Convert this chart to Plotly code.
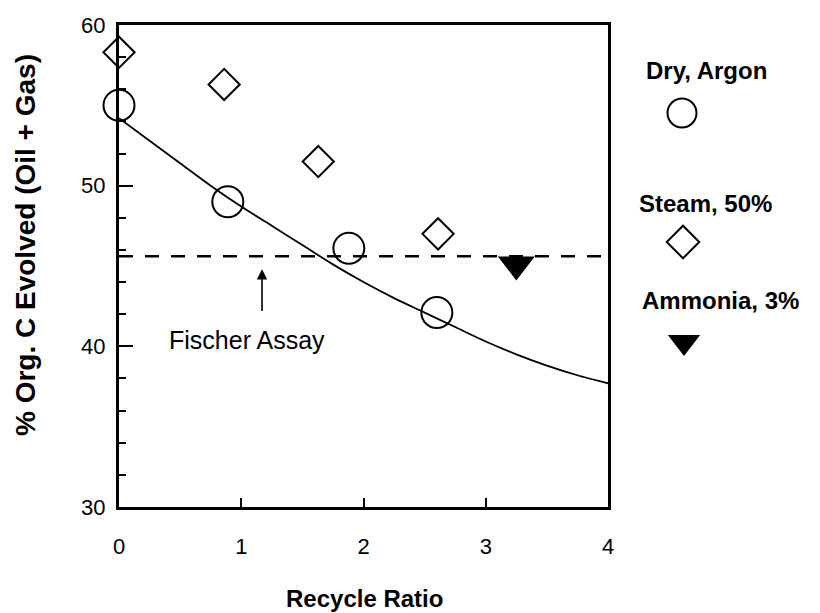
import plotly.graph_objects as go

# ---- Data ----
dry_x = [0.0, 0.89, 1.88, 2.60]
dry_y = [55.0, 49.0, 46.1, 42.1]

steam_x = [0.0, 0.86, 1.63, 2.61]
steam_y = [58.3, 56.3, 51.5, 47.0]

ammonia_x = [3.25]
ammonia_y = [45.1]

curve_x = [0.0, 0.25, 0.5, 0.75, 1.0, 1.25, 1.5, 1.75, 2.0, 2.25, 2.5, 2.75, 3.0, 3.25, 3.5, 3.75, 4.0]
curve_y = [54.2, 52.8, 51.4, 50.0, 48.7, 47.5, 46.3, 45.1, 44.0, 43.0, 42.1, 41.2, 40.3, 39.5, 38.8, 38.2, 37.7]

fischer_y = 45.6
x_range = [0, 4]
y_range = [30, 60]
x_ticks = [0, 1, 2, 3, 4]
y_ticks = [30, 40, 50, 60]

legend_labels = ["Dry, Argon", "Steam, 50%", "Ammonia, 3%"]

FONT = "Liberation Sans, Arial, Helvetica, sans-serif"
OFF = 8                      # page body margin
W, H = 820 - OFF, 613 - OFF  # figure size
# plot frame in page pixels
L, R, T, B = 119 - OFF, 608 - OFF, 25 - OFF, 507 - OFF

fig = go.Figure()

fig.add_trace(go.Scatter(x=curve_x, y=curve_y, mode="lines",
                         line=dict(color="black", width=1.8, shape="spline", smoothing=0.8),
                         showlegend=False))
fig.add_trace(go.Scatter(x=x_range, y=[fischer_y, fischer_y], mode="lines",
                         line=dict(color="black", width=2.5, dash="14px,12px"),
                         showlegend=False))
fig.add_trace(go.Scatter(x=dry_x, y=dry_y, mode="markers",
                         marker=dict(symbol="circle-open", size=31, color="black",
                                     line=dict(width=2, color="black")),
                         showlegend=False, cliponaxis=False))
fig.add_trace(go.Scatter(x=steam_x, y=steam_y, mode="markers",
                         marker=dict(symbol="diamond-open", size=24, color="black",
                                     line=dict(width=2, color="black")),
                         showlegend=False, cliponaxis=False))
fig.add_trace(go.Scatter(x=ammonia_x, y=ammonia_y, mode="markers",
                         marker=dict(symbol="triangle-down", size=32, color="black",
                                     line=dict(width=0)),
                         showlegend=False, cliponaxis=False))

# ---- custom legend drawn on a hidden pixel-space axis (page pixels) ----
leg_sym_x = [682, 683, 684]
leg_sym_y = [113, 242, 342]
leg_txt_x = [706, 705, 720]
leg_txt_y = [70, 203, 300]
symbols = [dict(symbol="circle-open", size=29, line=dict(width=2, color="black")),
           dict(symbol="diamond-open", size=25, line=dict(width=2, color="black")),
           dict(symbol="triangle-down", size=28, line=dict(width=0))]
for i in range(3):
    fig.add_trace(go.Scatter(x=[leg_sym_x[i]], y=[leg_sym_y[i]], xaxis="x2", yaxis="y2",
                             mode="markers", marker=dict(color="black", **symbols[i]),
                             showlegend=False, cliponaxis=False))

annotations = []
for i, lab in enumerate(legend_labels):
    annotations.append(dict(x=leg_txt_x[i], y=leg_txt_y[i], xref="x2", yref="y2",
                            xanchor="center", yanchor="middle",
                            text=f"<b>{lab}</b>", showarrow=False,
                            font=dict(family=FONT, size=24, color="black")))

annotations.append(dict(x=1.05, y=40.4, xref="x", yref="y", text="Fischer Assay",
                        xanchor="center", yanchor="middle",
                        showarrow=False, font=dict(family=FONT, size=25, color="black")))
annotations.append(dict(x=1.17, y=44.8, xref="x", yref="y", ax=1.17, ay=42.1,
                        axref="x", ayref="y", text="", showarrow=True,
                        arrowhead=2, arrowsize=1.3, arrowwidth=1.6, arrowcolor="black"))

# axis titles (page pixel centres)
annotations.append(dict(x=(364 - OFF) / W, y=1 - (598 - OFF) / H, xref="paper", yref="paper",
                        xanchor="center", yanchor="middle",
                        text="<b>Recycle Ratio</b>", showarrow=False,
                        font=dict(family=FONT, size=24, color="black")))
annotations.append(dict(x=(26 - OFF) / W, y=1 - (245 - OFF) / H, xref="paper", yref="paper",
                        xanchor="center", yanchor="middle",
                        text="<b>% Org. C Evolved (Oil + Gas)</b>", showarrow=False,
                        textangle=-90, font=dict(family=FONT, size=28, color="black")))

fig.update_layout(
    width=W, height=H,
    margin=dict(l=0, r=0, t=0, b=0),
    paper_bgcolor="white", plot_bgcolor="white",
    font=dict(family=FONT, size=22, color="black"),
    annotations=annotations,
    xaxis=dict(domain=[L / W, R / W], range=x_range, tickvals=x_ticks, showgrid=False,
               zeroline=False, automargin=False,
               showline=True, linewidth=3, linecolor="black", mirror=True,
               ticks="inside", ticklen=9, tickwidth=2, tickcolor="black",
               ticklabelstandoff=18, tickfont=dict(size=22)),
    yaxis=dict(domain=[1 - B / H, 1 - T / H], range=y_range, tickvals=y_ticks, showgrid=False,
               zeroline=False, automargin=False,
               showline=True, linewidth=3, linecolor="black", mirror=True,
               ticks="inside", ticklen=14, tickwidth=2, tickcolor="black",
               ticklabelstandoff=6, tickfont=dict(size=22),
               minor=dict(dtick=2, tick0=30, ticks="inside", ticklen=7, tickwidth=2,
                          tickcolor="black")),
    xaxis2=dict(domain=[(615 - OFF) / W, 1], range=[615, 820], visible=False, anchor="y2",
                automargin=False),
    yaxis2=dict(domain=[0, 1], range=[613, OFF], visible=False, anchor="x2",
                automargin=False),
)

fig.write_html("out.html")
